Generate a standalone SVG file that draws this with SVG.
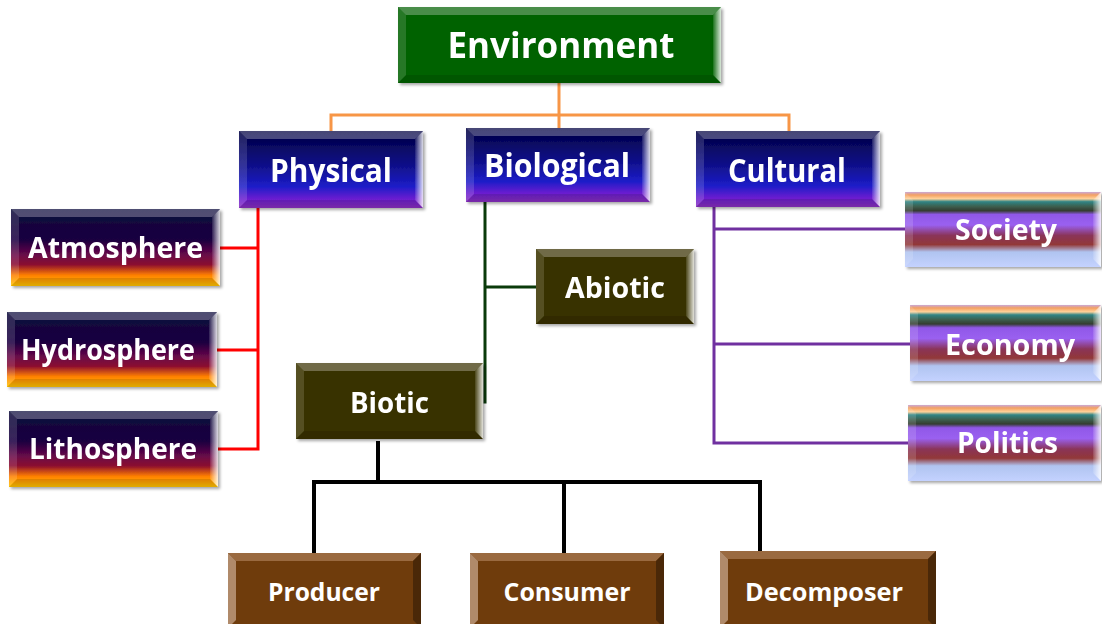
<svg xmlns="http://www.w3.org/2000/svg" width="1102" height="624" viewBox="0 0 1102 624">
<defs>
<linearGradient id="gBlue" x1="0" y1="0" x2="0" y2="1">
<stop offset="0" stop-color="#000040"/><stop offset="0.45" stop-color="#10108a"/><stop offset="0.72" stop-color="#1c1cc8"/><stop offset="0.88" stop-color="#6a1ed0"/><stop offset="1" stop-color="#8a30c0"/>
</linearGradient>
<linearGradient id="gSphere" x1="0" y1="0" x2="0" y2="1">
<stop offset="0" stop-color="#0c0c3c"/><stop offset="0.4" stop-color="#1a0040"/><stop offset="0.6" stop-color="#6a0848"/><stop offset="0.72" stop-color="#8a0a30"/><stop offset="0.86" stop-color="#ff8000"/><stop offset="1" stop-color="#ffc400"/>
</linearGradient>
<linearGradient id="gStripe" x1="0" y1="0" x2="0" y2="1">
<stop offset="0" stop-color="#c8a8d8"/><stop offset="0.04" stop-color="#f4a060"/><stop offset="0.09" stop-color="#ffd29a"/><stop offset="0.13" stop-color="#2e8484"/><stop offset="0.19" stop-color="#3c6050"/><stop offset="0.25" stop-color="#343c30"/><stop offset="0.3" stop-color="#9058e8"/><stop offset="0.44" stop-color="#9a60f0"/><stop offset="0.58" stop-color="#8a3458"/><stop offset="0.7" stop-color="#923838"/><stop offset="0.8" stop-color="#b0c4f0"/><stop offset="1" stop-color="#c4d2ff"/>
</linearGradient>
<linearGradient id="gRight" x1="0" y1="0" x2="1" y2="0">
<stop offset="0" stop-color="#ffffff" stop-opacity="0.1"/><stop offset="1" stop-color="#ffffff" stop-opacity="0.85"/>
</linearGradient>
<filter id="sh" x="-5%" y="-5%" width="115%" height="120%">
<feDropShadow dx="2" dy="2" stdDeviation="1.5" flood-color="#000" flood-opacity="0.35"/>
</filter>
</defs>
<style>
.t{font-family:"Open Sans","Noto Sans","Liberation Sans",sans-serif;font-weight:bold;fill:#ffffff;text-anchor:middle}
.bt{fill:#ffffff;fill-opacity:0.28}
.bl{fill:#ffffff;fill-opacity:0.14}
.br{fill:url(#gRight)}
.bb{fill:#000000;fill-opacity:0.12}
.env{fill:#036203}
.blue{fill:url(#gBlue)}
.sph{fill:url(#gSphere)}
.str{fill:url(#gStripe)}
.olv{fill:#383300}
.brn{fill:#6f3c0c}
.c{fill:none;stroke-linecap:square}
</style>

<g id="connectors">
<g class="c" stroke="#f79646" stroke-width="3">
<path d="M559 83 V128 M331 115 H789 M331 115 V131 M789 115 V131"/>
</g>
<g class="c" stroke="#ff0000" stroke-width="3">
<path d="M258 208 V449 M220 248 H258 M217 350 H258 M218 449 H258"/>
</g>
<g class="c" stroke="#0a3a0a" stroke-width="3">
<path d="M485 202 V402 M485 287 H536"/>
</g>
<g class="c" stroke="#7030a0" stroke-width="3">
<path d="M714 207 V443 M714 229 H905 M714 344 H910 M714 443 H908"/>
</g>
<g class="c" stroke="#000000" stroke-width="4">
<path d="M378 443 V482 M314 482 H760 M314 482 V553 M564 482 V553 M760 482 V551"/>
</g>
</g>

<g id="environment" filter="url(#sh)">
<rect class="env" x="398" y="7" width="323" height="76"/>
<polygon class="bt" points="398,7 721,7 713,15 406,15"/>
<polygon class="bl" points="398,7 406,15 406,75 398,83"/>
<polygon class="br" points="721,7 721,83 713,75 713,15"/>
<polygon class="bb" points="398,83 406,75 713,75 721,83"/>
<text class="t" x="561" y="58" font-size="36" textLength="227" lengthAdjust="spacingAndGlyphs">Environment</text>
</g>

<g id="physical" filter="url(#sh)">
<rect class="blue" x="239" y="131" width="184" height="77"/>
<polygon class="bt" points="239,131 423,131 415,139 247,139"/>
<polygon class="bl" points="239,131 247,139 247,200 239,208"/>
<polygon class="br" points="423,131 423,208 415,200 415,139"/>
<polygon class="bb" points="239,208 247,200 415,200 423,208"/>
<text class="t" x="331" y="182" font-size="32" textLength="122" lengthAdjust="spacingAndGlyphs">Physical</text>
</g>

<g id="biological" filter="url(#sh)">
<rect class="blue" x="466" y="128" width="184" height="74"/>
<polygon class="bt" points="466,128 650,128 642,136 474,136"/>
<polygon class="bl" points="466,128 474,136 474,194 466,202"/>
<polygon class="br" points="650,128 650,202 642,194 642,136"/>
<polygon class="bb" points="466,202 474,194 642,194 650,202"/>
<text class="t" x="557" y="177" font-size="32" textLength="146" lengthAdjust="spacingAndGlyphs">Biological</text>
</g>

<g id="cultural" filter="url(#sh)">
<rect class="blue" x="696" y="131" width="184" height="76"/>
<polygon class="bt" points="696,131 880,131 872,139 704,139"/>
<polygon class="bl" points="696,131 704,139 704,199 696,207"/>
<polygon class="br" points="880,131 880,207 872,199 872,139"/>
<polygon class="bb" points="696,207 704,199 872,199 880,207"/>
<text class="t" x="787" y="182" font-size="32" textLength="118" lengthAdjust="spacingAndGlyphs">Cultural</text>
</g>

<g id="atmosphere" filter="url(#sh)">
<rect class="sph" x="11" y="209" width="209" height="77"/>
<polygon class="bt" points="11,209 220,209 212,217 19,217"/>
<polygon class="bl" points="11,209 19,217 19,278 11,286"/>
<polygon class="br" points="220,209 220,286 212,278 212,217"/>
<polygon class="bb" points="11,286 19,278 212,278 220,286"/>
<text class="t" x="115.5" y="258" font-size="29" textLength="175" lengthAdjust="spacingAndGlyphs">Atmosphere</text>
</g>

<g id="hydrosphere" filter="url(#sh)">
<rect class="sph" x="7" y="312" width="210" height="75"/>
<polygon class="bt" points="7,312 217,312 209,320 15,320"/>
<polygon class="bl" points="7,312 15,320 15,379 7,387"/>
<polygon class="br" points="217,312 217,387 209,379 209,320"/>
<polygon class="bb" points="7,387 15,379 209,379 217,387"/>
<text class="t" x="108" y="360" font-size="29" textLength="174" lengthAdjust="spacingAndGlyphs">Hydrosphere</text>
</g>

<g id="lithosphere" filter="url(#sh)">
<rect class="sph" x="9" y="411" width="209" height="76"/>
<polygon class="bt" points="9,411 218,411 210,419 17,419"/>
<polygon class="bl" points="9,411 17,419 17,479 9,487"/>
<polygon class="br" points="218,411 218,487 210,479 210,419"/>
<polygon class="bb" points="9,487 17,479 210,479 218,487"/>
<text class="t" x="113" y="459" font-size="29" textLength="168" lengthAdjust="spacingAndGlyphs">Lithosphere</text>
</g>

<g id="society" filter="url(#sh)">
<rect class="str" x="905" y="192" width="196" height="75"/>
<polygon class="bl" points="905,192 913,200 913,259 905,267"/>
<polygon class="br" points="1101,192 1101,267 1093,259 1093,200"/>
<text class="t" x="1006" y="240" font-size="28" textLength="102" lengthAdjust="spacingAndGlyphs">Society</text>
</g>

<g id="economy" filter="url(#sh)">
<rect class="str" x="910" y="305" width="191" height="76"/>
<polygon class="bl" points="910,305 918,313 918,373 910,381"/>
<polygon class="br" points="1101,305 1101,381 1093,373 1093,313"/>
<text class="t" x="1010" y="355" font-size="28" textLength="130" lengthAdjust="spacingAndGlyphs">Economy</text>
</g>

<g id="politics" filter="url(#sh)">
<rect class="str" x="908" y="405" width="193" height="76"/>
<polygon class="bl" points="908,405 916,413 916,473 908,481"/>
<polygon class="br" points="1101,405 1101,481 1093,473 1093,413"/>
<text class="t" x="1007.5" y="453" font-size="28" textLength="101" lengthAdjust="spacingAndGlyphs">Politics</text>
</g>

<g id="abiotic" filter="url(#sh)">
<rect class="olv" x="536" y="249" width="158" height="75"/>
<polygon class="bt" points="536,249 694,249 686,257 544,257"/>
<polygon class="bl" points="536,249 544,257 544,316 536,324"/>
<polygon class="br" points="694,249 694,324 686,316 686,257"/>
<polygon class="bb" points="536,324 544,316 686,316 694,324"/>
<text class="t" x="615" y="298" font-size="28" textLength="100" lengthAdjust="spacingAndGlyphs">Abiotic</text>
</g>

<g id="biotic" filter="url(#sh)">
<rect class="olv" x="296" y="363" width="187" height="76"/>
<polygon class="bt" points="296,363 483,363 475,371 304,371"/>
<polygon class="bl" points="296,363 304,371 304,431 296,439"/>
<polygon class="br" points="483,363 483,439 475,431 475,371"/>
<polygon class="bb" points="296,439 304,431 475,431 483,439"/>
<text class="t" x="389.5" y="413" font-size="28" textLength="79" lengthAdjust="spacingAndGlyphs">Biotic</text>
</g>

<g id="producer">
<rect class="brn" x="228" y="553" width="193" height="75"/>
<polygon fill="#9a6a40" points="228,553 421,553 413,561 236,561"/>
<polygon fill="#b08a6a" points="228,553 236,561 236,620 228,628"/>
<polygon fill="#4a2808" points="421,553 421,628 413,620 413,561"/>
<text class="t" x="324" y="601" font-size="25" textLength="112" lengthAdjust="spacingAndGlyphs">Producer</text>
</g>

<g id="consumer">
<rect class="brn" x="470" y="553" width="194" height="75"/>
<polygon fill="#9a6a40" points="470,553 664,553 656,561 478,561"/>
<polygon fill="#b08a6a" points="470,553 478,561 478,620 470,628"/>
<polygon fill="#4a2808" points="664,553 664,628 656,620 656,561"/>
<text class="t" x="567" y="601" font-size="25" textLength="127" lengthAdjust="spacingAndGlyphs">Consumer</text>
</g>

<g id="decomposer">
<rect class="brn" x="720" y="551" width="216" height="77"/>
<polygon fill="#9a6a40" points="720,551 936,551 928,559 728,559"/>
<polygon fill="#b08a6a" points="720,551 728,559 728,620 720,628"/>
<polygon fill="#4a2808" points="936,551 936,628 928,620 928,559"/>
<text class="t" x="824" y="601" font-size="25" textLength="158" lengthAdjust="spacingAndGlyphs">Decomposer</text>
</g>
</svg>
